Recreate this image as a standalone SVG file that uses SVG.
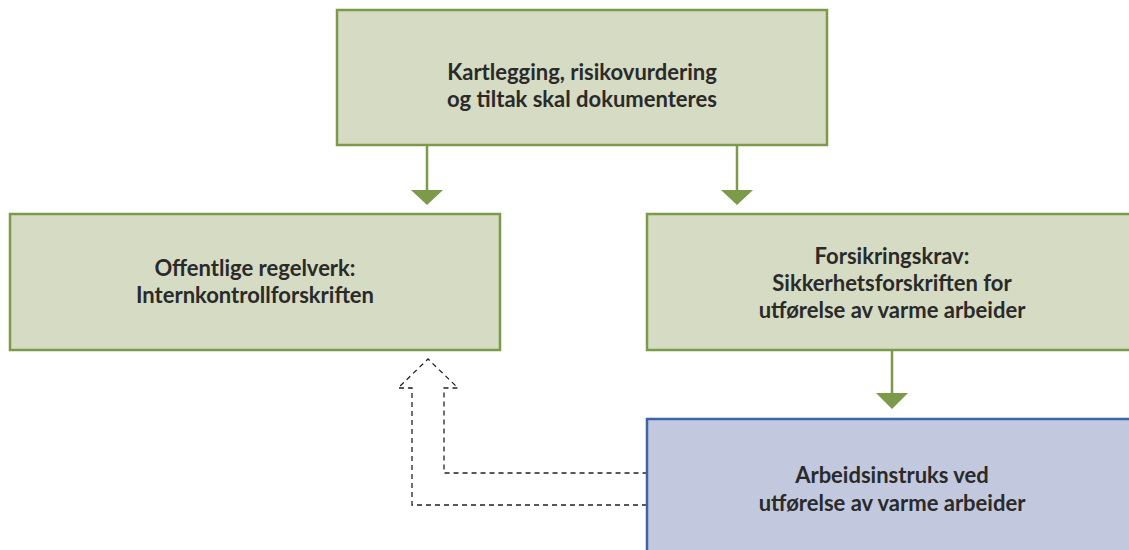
<svg xmlns="http://www.w3.org/2000/svg" width="1129" height="550" viewBox="0 0 1129 550">
<style>
.g{fill:#d6dbc3;stroke:#7b9a4a;stroke-width:2.5}
.b{fill:#c2c8dd;stroke:#3c64a8;stroke-width:2.5}
.t{font-family:Lato,"Noto Sans",sans-serif;font-weight:bold;font-size:22px;fill:#2a2a2a;text-anchor:middle}
.c{stroke:#7b9a4a;stroke-width:2.5;fill:none}
.h{fill:#7b9a4a}
.d{fill:none;stroke:#222;stroke-width:1.3;stroke-dasharray:5 4}
</style>
<rect width="1129" height="550" fill="#fff"/>
<g id="connectors">
<line class="c" x1="427" y1="145" x2="427" y2="192"/>
<polygon class="h" points="411,190 443,190 427,205"/>
<line class="c" x1="737" y1="145" x2="737" y2="192"/>
<polygon class="h" points="721,190 753,190 737,205"/>
<line class="c" x1="892" y1="350" x2="892" y2="395"/>
<polygon class="h" points="876,393 908,393 892,409"/>
<polyline class="d" points="647,505 412,505 412,388 398,388 428,359 458,388 444,388 444,473 647,473"/>
</g>
<g id="top">
<rect class="g" x="337" y="10" width="490" height="135"/>
<text class="t" x="582" y="80">Kartlegging, risikovurdering</text>
<text class="t" x="582" y="107">og tiltak skal dokumenteres</text>
</g>
<g id="left">
<rect class="g" x="10" y="214" width="490" height="136"/>
<text class="t" x="255" y="276">Offentlige regelverk:</text>
<text class="t" x="255" y="303">Internkontrollforskriften</text>
</g>
<g id="right">
<rect class="g" x="647" y="214" width="490" height="136"/>
<text class="t" x="892" y="264">Forsikringskrav:</text>
<text class="t" x="892" y="291">Sikkerhetsforskriften for</text>
<text class="t" x="892" y="318">utførelse av varme arbeider</text>
</g>
<g id="instruks">
<rect class="b" x="647" y="419" width="490" height="140"/>
<text class="t" x="892" y="483">Arbeidsinstruks ved</text>
<text class="t" x="892" y="511">utførelse av varme arbeider</text>
</g>
</svg>
